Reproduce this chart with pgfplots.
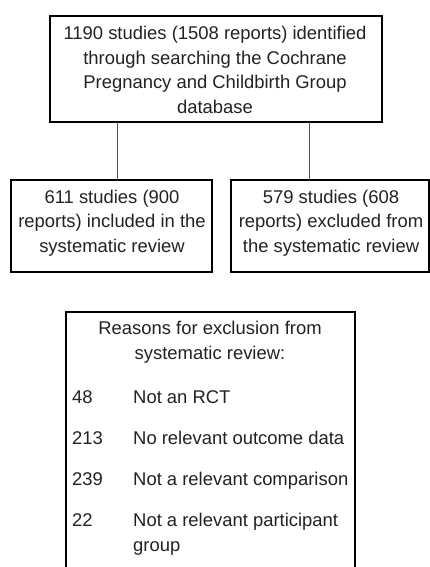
\documentclass[border=0pt]{standalone}
\usepackage{pgfplots}
\pgfplotsset{compat=1.18}
\usepackage{fontspec}
\setmainfont{Liberation Sans}
\definecolor{txt}{HTML}{222222}
\definecolor{conn}{HTML}{555555}
\begin{document}
\begin{tikzpicture}
\begin{axis}[
  name=ax,
  width=430bp, height=567bp, scale only axis,
  xmin=0, xmax=430, ymin=0, ymax=567, y dir=reverse,
  axis lines=none, ticks=none,
]
% boxes
\addplot[black, line width=1.6bp, mark=none] coordinates {(50,16)(382,16)(382,122)(50,122)} --cycle;
\addplot[black, line width=1.6bp, mark=none] coordinates {(11,180)(212,180)(212,272)(11,272)} --cycle;
\addplot[black, line width=1.6bp, mark=none] coordinates {(231,180)(429,180)(429,272)(231,272)} --cycle;
\addplot[black, line width=1.6bp, mark=none] coordinates {(66,575)(66,312)(355,312)(355,575)};
% connectors
\addplot[conn, line width=0.9bp, mark=none] coordinates {(117,122)(117,180)};
\addplot[conn, line width=0.9bp, mark=none] coordinates {(309,122)(309,180)};
% texts
\tikzset{t/.style={text=txt, inner sep=0pt, font=\fontsize{18.5}{24.7}\selectfont}}
\node[t, align=center] at (axis cs:215,70) {1190 studies (1508 reports) identified\\through searching the Cochrane\\Pregnancy and Childbirth Group\\database};
\node[t, align=center] at (axis cs:112,223) {611 studies (900\\reports) included in the\\systematic review};
\node[t, align=center] at (axis cs:331,223) {579 studies (608\\reports) excluded from\\the systematic review};
\node[t, align=center] at (axis cs:210,342) {Reasons for exclusion from\\systematic review:};
\node[t, anchor=base west] at (axis cs:72,403) {48};
\node[t, anchor=base west] at (axis cs:133,403) {Not an RCT};
\node[t, anchor=base west] at (axis cs:72,444) {213};
\node[t, anchor=base west] at (axis cs:133,444) {No relevant outcome data};
\node[t, anchor=base west] at (axis cs:72,485) {239};
\node[t, anchor=base west] at (axis cs:133,485) {Not a relevant comparison};
\node[t, anchor=base west] at (axis cs:72,526) {22};
\node[t, anchor=base west] at (axis cs:133,526) {Not a relevant participant};
\node[t, anchor=base west] at (axis cs:133,551) {group};
\path (axis cs:0,0) rectangle (axis cs:430,567);
\end{axis}
\useasboundingbox (ax.south west) rectangle (ax.north east);
\end{tikzpicture}
\end{document}
